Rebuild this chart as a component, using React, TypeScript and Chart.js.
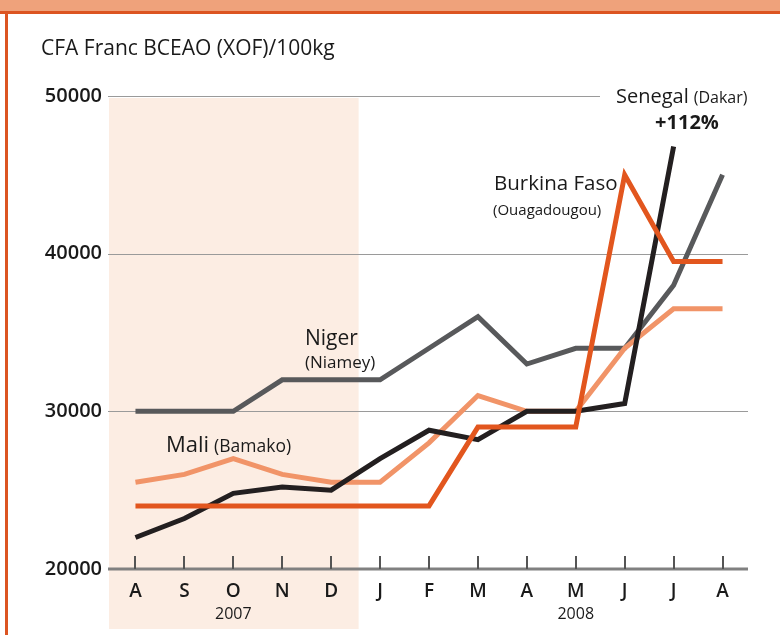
import React, { useEffect, useRef } from "react";
import { Chart, registerables } from "chart.js";

Chart.register(...registerables);

const months = ["A", "S", "O", "N", "D", "J", "F", "M", "A", "M", "J", "J", "A"];
const yearLabels = [
  { text: "2007", index: 2 },
  { text: "2008", index: 9 },
];
const yTicks = [20000, 30000, 40000, 50000];

const senegal = [22000, 23200, 24800, 25200, 25000, 27000, 28800, 28200, 30000, 30000, 30500, 46800, null];
const niger = [30000, 30000, 30000, 32000, 32000, 32000, 34000, 36000, 33000, 34000, 34000, 38000, 45000];
const burkina = [24000, 24000, 24000, 24000, 24000, 24000, 24000, 29000, 29000, 29000, 45000, 39500, 39500];
const mali = [25500, 26000, 27000, 26000, 25500, 25500, 28000, 31000, 30000, 30000, 34000, 36500, 36500];

const FONT = "'Open Sans', sans-serif";

const decorPlugin = {
  id: "decor",
  beforeDraw(chart: any) {
    const ctx = chart.ctx;
    const W = chart.width;
    const H = chart.height;
    const x = chart.scales.x;
    const y = chart.scales.y;
    const area = chart.chartArea;
    ctx.save();
    ctx.fillStyle = "#ffffff";
    ctx.fillRect(0, 0, W, H);
    // shaded 2007 band
    const step = x.getPixelForValue(1) - x.getPixelForValue(0);
    const bandRight = x.getPixelForValue(4) + step / 2 + 3;
    const bandTop = y.getPixelForValue(50000) + 2;
    ctx.fillStyle = "#fcede3";
    ctx.fillRect(area.left - 2, bandTop, bandRight - area.left + 2, H - 6 - bandTop);
    // frame
    ctx.fillStyle = "#efa27b";
    ctx.fillRect(0, 0, W, 11);
    ctx.fillStyle = "#dc5522";
    ctx.fillRect(0, 11, W, 3);
    ctx.fillRect(5, 11, 3, H - 11);
    // gridlines
    ctx.strokeStyle = "#9a9a9a";
    ctx.lineWidth = 1.2;
    yTicks.forEach((v) => {
      if (v === 20000) return;
      const py = Math.round(y.getPixelForValue(v)) + 0.5;
      const right = v === 50000 ? 600 : area.right + 1;
      ctx.beginPath();
      ctx.moveTo(area.left - 3, py);
      ctx.lineTo(right, py);
      ctx.stroke();
    });
    // y labels
    ctx.fillStyle = "#1a1a1a";
    ctx.font = `600 20px ${FONT}`;
    ctx.textAlign = "right";
    ctx.textBaseline = "middle";
    yTicks.forEach((v) => {
      ctx.fillText(String(v), 102, y.getPixelForValue(v));
    });
    // title
    ctx.textAlign = "left";
    ctx.textBaseline = "alphabetic";
    ctx.font = `21px ${FONT}`;
    ctx.fillText("CFA Franc BCEAO (XOF)/100kg", 41, 55);
    ctx.restore();
  },
  afterDatasetsDraw(chart: any) {
    const ctx = chart.ctx;
    const x = chart.scales.x;
    const y = chart.scales.y;
    const area = chart.chartArea;
    const base = y.getPixelForValue(20000);
    ctx.save();
    // axis
    ctx.strokeStyle = "#808080";
    ctx.lineWidth = 3;
    ctx.beginPath();
    ctx.moveTo(area.left - 3, base);
    ctx.lineTo(area.right + 1, base);
    ctx.stroke();
    ctx.strokeStyle = "#555555";
    ctx.lineWidth = 2;
    months.forEach((_, i) => {
      const px = Math.round(x.getPixelForValue(i));
      ctx.beginPath();
      ctx.moveTo(px, base - 13);
      ctx.lineTo(px, base);
      ctx.stroke();
    });
    // month labels
    ctx.fillStyle = "#1a1a1a";
    ctx.font = `600 19px ${FONT}`;
    ctx.textAlign = "center";
    ctx.textBaseline = "middle";
    months.forEach((m, i) => {
      ctx.fillText(m, x.getPixelForValue(i), base + 23);
    });
    ctx.font = `16px ${FONT}`;
    yearLabels.forEach((yl) => {
      ctx.fillText(yl.text, x.getPixelForValue(yl.index), base + 45);
    });
    // annotations
    ctx.textAlign = "left";
    ctx.textBaseline = "alphabetic";
    const label = (big: string, bigSize: number, small: string, smallSize: number, px: number, py: number) => {
      ctx.font = `${bigSize}px ${FONT}`;
      ctx.fillText(big, px, py);
      if (small) {
        const w = ctx.measureText(big).width + 5;
        ctx.font = `${smallSize}px ${FONT}`;
        ctx.fillText(small, px + w, py);
      }
    };
    label("Senegal", 20, "(Dakar)", 16, 616, 103);
    ctx.font = `bold 20px ${FONT}`;
    ctx.textAlign = "center";
    ctx.fillText("+112%", 687, 129);
    ctx.textAlign = "left";
    label("Burkina Faso", 20.5, "", 0, 494, 190);
    ctx.font = `15px ${FONT}`;
    ctx.fillText("(Ouagadougou)", 493, 215);
    label("Niger", 21, "", 0, 305, 345);
    ctx.font = `17px ${FONT}`;
    ctx.fillText("(Niamey)", 305, 368);
    label("Mali", 22, "(Bamako)", 17.5, 166, 452);
    ctx.restore();
  },
};

export default function App() {
  const ref = useRef<HTMLCanvasElement>(null);
  useEffect(() => {
    if (!ref.current) return;
    const common = { borderWidth: 5, pointRadius: 0, tension: 0, borderJoinStyle: "miter" as const, borderCapStyle: "butt" as const, fill: false, spanGaps: false };
    const chart = new Chart(ref.current, {
      type: "line",
      data: {
        labels: months,
        datasets: [
          { label: "Burkina Faso", data: burkina, borderColor: "#e2561e", ...common },
          { label: "Senegal", data: senegal, borderColor: "#231f20", ...common },
          { label: "Mali", data: mali, borderColor: "#f19468", ...common },
          { label: "Niger", data: niger, borderColor: "#58595b", ...common },
        ],
      },
      options: {
        animation: false,
        responsive: false,
        maintainAspectRatio: false,
        layout: { padding: { left: 111, right: 33, top: 96, bottom: 66 } },
        plugins: { legend: { display: false }, tooltip: { enabled: false } },
        scales: {
          x: { type: "category", offset: true, display: false },
          y: { type: "linear", min: 20000, max: 50000, display: false },
        },
      },
      plugins: [decorPlugin],
    });
    return () => chart.destroy();
  }, []);
  return (
    <div style={{ position: "absolute", left: 0, top: 0, width: 780, height: 635 }}>
      <canvas ref={ref} width={780} height={635} style={{ width: 780, height: 635, display: "block" }} />
    </div>
  );
}
